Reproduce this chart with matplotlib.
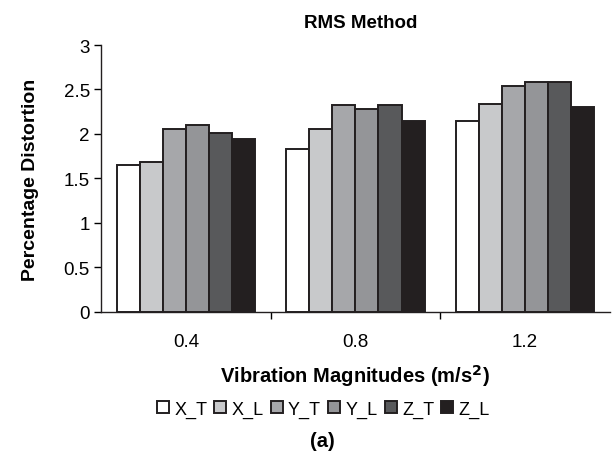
import numpy as np
import matplotlib
matplotlib.use("Agg")
import matplotlib.pyplot as plt

plt.rcParams['font.family'] = ['Liberation Sans', 'DejaVu Sans']

categories = ['0.4', '0.8', '1.2']
series_names = ['X_T', 'X_L', 'Y_T', 'Y_L', 'Z_T', 'Z_L']
X_T = [1.65, 1.83, 2.14]
X_L = [1.69, 2.06, 2.34]
Y_T = [2.06, 2.32, 2.54]
Y_L = [2.10, 2.28, 2.58]
Z_T = [2.01, 2.32, 2.58]
Z_L = [1.94, 2.14, 2.30]
series = [X_T, X_L, Y_T, Y_L, Z_T, Z_L]
colors = ['#ffffff', '#c8c9cb', '#a6a7aa', '#949598', '#58595b', '#231f20']
y_ticks = [0, 0.5, 1, 1.5, 2, 2.5, 3]
y_tick_labels = ['0', '0.5', '1', '1.5', '2', '2.5', '3']

fig = plt.figure(figsize=(6.16, 4.6), dpi=100)
ax = fig.add_axes([0.164, 0.32, 0.826, 0.58])

x = np.arange(len(categories))
bw = 0.136
for i, (vals, c) in enumerate(zip(series, colors)):
    offs = (i - 2.5) * bw
    ax.bar(x + offs, vals, width=bw, color=c, edgecolor='#231f20',
           linewidth=1.4, label=series_names[i], zorder=2)

ax.set_xlim(-0.5, 2.5)
ax.set_ylim(0, 3)
ax.set_yticks(y_ticks)
ax.set_yticklabels(y_tick_labels)
ax.set_xticks([0.5, 1.5], minor=False)
ax.set_xticklabels([])
ax.set_xticks(x, minor=True)
ax.set_xticklabels(categories, minor=True)
ax.tick_params(axis='x', which='minor', length=0, pad=15, labelsize=13.5)
ax.tick_params(axis='x', which='major', length=5, direction='out', width=1)
ax.tick_params(axis='y', length=5, direction='out', width=1, labelsize=13.5, pad=3)
for s in ['top', 'right']:
    ax.spines[s].set_visible(False)
for s in ['left', 'bottom']:
    ax.spines[s].set_linewidth(1)
    ax.spines[s].set_color('#231f20')

ax.set_title('RMS Method', fontsize=13.5, fontweight='bold', pad=13, x=0.51)
ax.set_ylabel('Percentage Distortion', fontsize=14, fontweight='bold', labelpad=18)
ax.set_xlabel('Vibration Magnitudes (m/s$^\\mathbf{2}$)', fontsize=14.5, fontweight='bold', labelpad=9)

fig.legend(loc='center', bbox_to_anchor=(0.525, 0.108), ncol=6, frameon=False,
           fontsize=13, handlelength=0.65, handleheight=0.65, handletextpad=0.3,
           columnspacing=0.4)
fig.text(0.523, 0.04, '(a)', ha='center', va='center', fontsize=14.5, fontweight='bold')

fig.savefig('out.png', dpi=100)
